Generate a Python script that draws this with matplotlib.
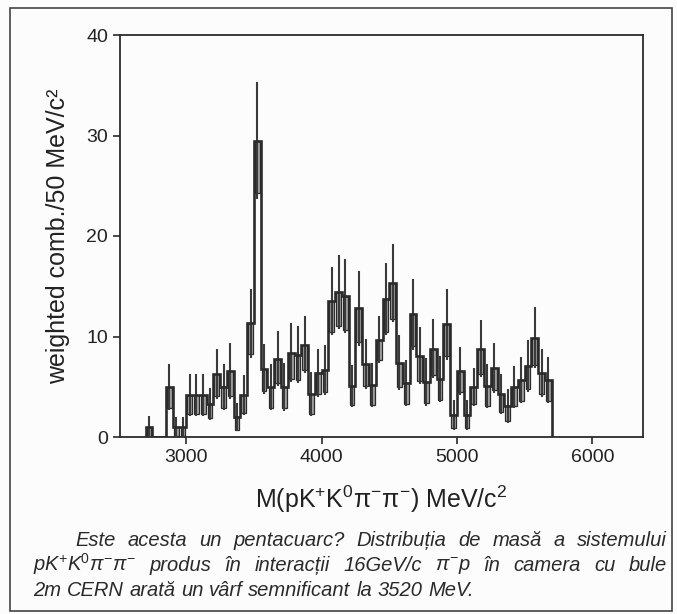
import numpy as np
import matplotlib.pyplot as plt
from matplotlib.patches import Rectangle

plt.rcParams['font.family'] = ['Liberation Sans', 'DejaVu Sans']
plt.rcParams['mathtext.fontset'] = 'custom'
plt.rcParams['mathtext.rm'] = 'Liberation Sans'
plt.rcParams['mathtext.it'] = 'Liberation Sans:italic'

# weighted combinations per 50 MeV bin, first bin starts at 2700 MeV
bin_start = 2700
bin_width = 50
counts = [1.0, 0, 0, 5.0, 1.0, 1.0, 4.2, 4.2, 4.2, 3.3,
          6.3, 5.0, 6.6, 2.0, 4.2, 11.3, 29.5, 6.8, 5.0, 7.8,
          5.0, 8.4, 8.2, 9.2, 4.3, 6.4, 6.7, 13.5, 14.4, 14.0,
          5.1, 12.8, 7.3, 5.2, 9.7, 13.7, 15.3, 7.4, 5.4, 12.2,
          8.1, 5.5, 8.8, 5.8, 11.2, 2.2, 6.6, 2.2, 5.0, 8.8,
          5.1, 6.9, 4.3, 3.1, 5.0, 5.7, 7.1, 9.9, 6.4, 5.7]
errors = [1.1, 0, 0, 2.3, 1.0, 1.0, 2.1, 2.1, 2.1, 1.6,
          2.5, 2.3, 2.8, 1.4, 2.0, 3.4, 5.8, 2.5, 2.3, 2.7,
          2.4, 2.9, 2.8, 2.8, 2.2, 2.4, 2.5, 3.4, 3.7, 3.7,
          2.1, 3.7, 2.5, 2.2, 2.3, 3.6, 3.9, 2.7, 2.3, 3.5,
          2.8, 2.4, 2.9, 2.3, 3.5, 1.5, 2.4, 1.5, 1.9, 2.8,
          2.2, 2.5, 2.0, 1.7, 2.1, 2.3, 2.6, 3.0, 2.4, 2.3]

xticks = [3000, 4000, 5000, 6000]
yticks = [0, 10, 20, 30, 40]

caption = [
    (75, 667, 546, ['Este', 'acesta', 'un', 'pentacuarc?', 'Distribuția', 'de', 'masă', 'a', 'sistemului']),
    (33, 667, 571, [r'pK$^{+}$K$^{0}\pi^{-}\pi^{-}$', 'produs', 'în', 'interacții', '16GeV/c',
                    r'$\pi^{-}$p', 'în', 'camera', 'cu', 'bule']),
    (33, None, 596, ['2m', 'CERN', 'arată', 'un', 'vârf', 'semnificant', 'la', '3520', 'MeV.']),
]

counts = np.array(counts)
errors = np.array(errors)
edges = bin_start + bin_width * np.arange(len(counts) + 1)
centers = edges[:-1] + bin_width / 2

ink = '#2b2b2b'
W, H = 677, 614

fig = plt.figure(figsize=(W / 100, H / 100), dpi=100, facecolor='#fcfcfc')
ax = fig.add_axes([120 / W, 1 - 437 / H, 523 / W, 402 / H])
ax.set_facecolor('#fcfcfc')

# shaded boxes below each bin level
for c, v, e in zip(centers, counts, errors):
    if v <= 0:
        continue
    ax.add_patch(Rectangle((c - bin_width * 0.35, v - 0.9 * e), bin_width * 0.7, 0.9 * e,
                           facecolor='#a0a0a0', edgecolor=ink, lw=0.9, zorder=2))

nz = counts > 0
ax.vlines(centers[nz], (counts - errors)[nz], (counts + errors)[nz], color='#3a3a3a', lw=1.5, zorder=3)
ax.stairs(counts, edges, baseline=0, color=ink, lw=1.9, zorder=4)

ax.set_xlim(2510, 6375)
ax.set_ylim(0, 40)
ax.set_xticks(xticks)
ax.set_yticks(yticks)
ax.tick_params(direction='out', length=5, width=1.2, color=ink, labelsize=14, labelcolor='#222222')
for s in ax.spines.values():
    s.set_color(ink)
    s.set_linewidth(1.3)

ax.set_xlabel('M(pK$^{+}$K$^{0}$π$^{-}$π$^{-}$) MeV/c$^{2}$', fontsize=18, color='#222222', labelpad=13)
ax.set_ylabel('weighted comb./50 MeV/c²', fontsize=18, color='#222222', labelpad=12)

# caption under the chart, first two lines justified
renderer = fig.canvas.get_renderer()
cap = dict(fontsize=14.5, style='italic', color='#2a2a2a', va='baseline', ha='left')
for x0, x1, y, words in caption:
    items = [fig.text(x0 / W, 1 - y / H, w, **cap) for w in words]
    widths = [t.get_window_extent(renderer).width for t in items]
    if x1 is None:
        gap = fig.text(0, 0, ' ', **cap).get_window_extent(renderer).width
    else:
        gap = (x1 - x0 - sum(widths)) / (len(words) - 1)
    x = x0
    for t, w in zip(items, widths):
        t.set_x(x / W)
        x += w + gap

# outer frame of the figure panel
fig.patches.append(Rectangle((10 / W, 1 - 611 / H), 662 / W, 603 / H, transform=fig.transFigure,
                             fill=False, edgecolor='#444444', lw=1.2))

fig.savefig('out.png', dpi=100, facecolor=fig.get_facecolor())
